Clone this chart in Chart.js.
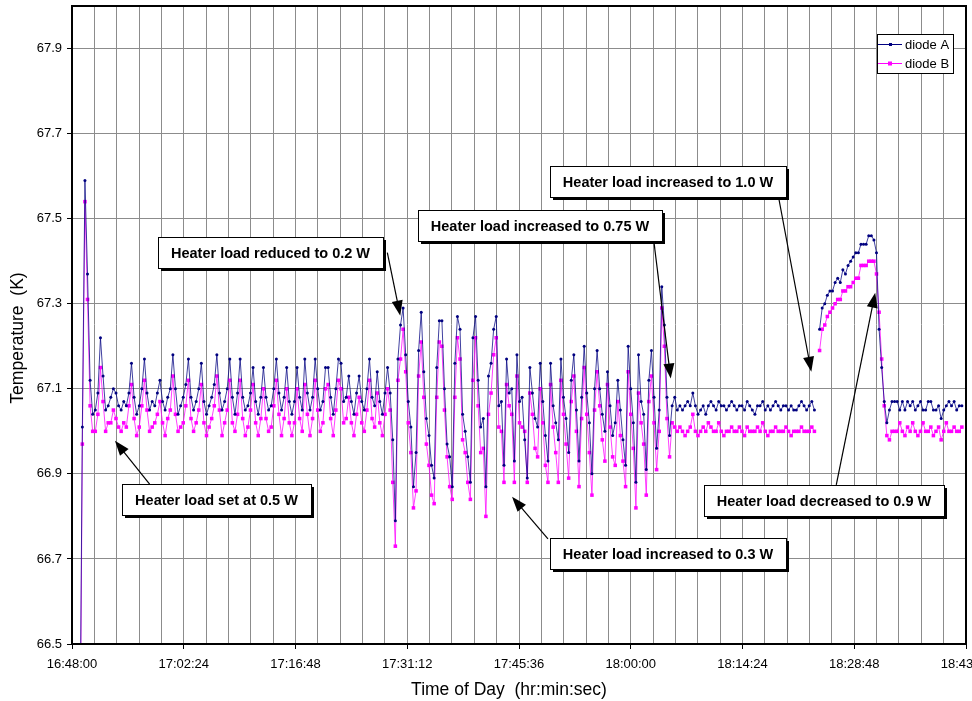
<!DOCTYPE html>
<html lang="en">
<head>
<meta charset="UTF-8">
<title>Diode temperatures vs heater load</title>
<style>
    html, body { margin: 0; padding: 0; background: #fff; overflow: hidden; }
    .chart-con { position: relative; width: 972px; height: 701px; }
</style>
</head>
<body>
<div class="chart-con">
    <canvas id="temps"></canvas>
</div>
<script src="https://cdn.jsdelivr.net/npm/chart.js"></script>
<script>
    // time axis in seconds of the day, 16:48:00 .. 18:43:12
    const axisStart = 60480;
    const axisEnd = 67392;
    const gridStep = 172.8;          // one vertical grid line every 0.002 day
    const xTickLabels = ['16:48:00', '17:02:24', '17:16:48', '17:31:12', '17:45:36',
        '18:00:00', '18:14:24', '18:28:48', '18:43:12'];
    const yTicks = [66.5, 66.7, 66.9, 67.1, 67.3, 67.5, 67.7, 67.9];

    // samples every 20 s from 16:49:00
    const sampleStart = 60540;
    const sampleStep = 20;

    const diodeA = [
        // 0.5 W
        66.20, 67.01, 67.59, 67.37, 67.12, 67.04, 67.05, 67.09, 67.22, 67.13,
        67.05, 67.06, 67.08, 67.10, 67.09, 67.06, 67.05, 67.07, 67.06, 67.09,
        67.16, 67.08, 67.04, 67.06, 67.10, 67.17, 67.09, 67.05, 67.07, 67.06,
        67.09, 67.12, 67.07, 67.05, 67.08, 67.10, 67.18, 67.10, 67.04, 67.06,
        67.08, 67.11, 67.17, 67.08, 67.05, 67.07, 67.10, 67.16, 67.07, 67.04,
        67.06, 67.08, 67.11, 67.18, 67.09, 67.05, 67.07, 67.10, 67.17, 67.08,
        67.04, 67.09, 67.17, 67.08, 67.05, 67.06, 67.09, 67.15, 67.07, 67.04,
        67.08, 67.15, 67.08, 67.05, 67.06, 67.10, 67.17, 67.09, 67.05, 67.08,
        67.15, 67.07, 67.04, 67.07, 67.15, 67.08, 67.05, 67.17, 67.09, 67.05,
        67.08, 67.17, 67.10, 67.05, 67.07, 67.15, 67.15, 67.08, 67.04, 67.10,
        67.17, 67.16, 67.07, 67.08, 67.13, 67.07, 67.04, 67.09, 67.13, 67.07,
        67.05, 67.10, 67.17, 67.08, 67.06, 67.14, 67.07, 67.04, 67.09, 67.15,
        // 0.2 W, then 0.3 W
        67.09, 66.98, 66.79, 67.17, 67.25, 67.29, 67.18, 67.07, 67.01, 66.87,
        66.95, 67.19, 67.28, 67.14, 67.03, 66.99, 66.92, 66.89, 67.15, 67.26,
        67.26, 67.10, 66.97, 66.94, 66.87, 67.16, 67.27, 67.24, 67.04, 67.00,
        66.94, 66.88, 67.22, 67.27, 67.12, 67.01, 67.03, 66.87, 67.13, 67.16,
        67.24, 67.27, 67.06, 67.07, 66.92, 67.17, 67.09, 67.10, 66.93, 67.18,
        67.07, 67.08, 66.98, 66.89, 67.15, 67.09, 67.03, 67.01, 67.16, 67.07,
        66.99, 66.93, 67.16, 67.06, 67.02, 66.98, 67.17, 67.08, 67.03, 66.95,
        67.12, 67.18, 67.05, 66.93, 67.08, 67.20, 67.09, 67.02, 66.90, 67.10,
        67.19, 67.10, 67.04, 67.00, 67.14, 67.06, 66.99, 67.02, 67.12, 67.05,
        66.98, 66.92, 67.20, 67.10, 67.02, 66.88, 67.18, 67.07, 67.04, 66.91,
        // 0.75 W
        67.12, 67.19, 67.08, 66.96, 67.05, 67.34, 67.25, 67.08, 66.99, 67.06,
        67.08, 67.05, 67.06, 67.05, 67.06, 67.07, 67.06, 67.09, 67.06, 67.04,
        67.05, 67.06, 67.04, 67.06, 67.07, 67.06, 67.05, 67.07, 67.06, 67.06,
        67.05, 67.06, 67.07, 67.06, 67.05, 67.06, 67.06, 67.05, 67.07, 67.06,
        67.05, 67.04, 67.06, 67.06, 67.07, 67.05, 67.06, 67.05, 67.06, 67.07,
        67.06, 67.05, 67.06, 67.06, 67.05, 67.06, 67.05, 67.05, 67.06, 67.07,
        67.06, 67.05, 67.06, 67.07, 67.05,
        // gap, then 1.0 W
        null,
        67.24, 67.29, 67.30, 67.32, 67.33, 67.33, 67.35, 67.36, 67.35, 67.38,
        67.37, 67.39, 67.40, 67.41, 67.42, 67.42, 67.44, 67.44, 67.44, 67.46,
        67.46, 67.45,
        // 0.9 W
        67.42, 67.24, 67.15, 67.07, 67.02, 67.05, 67.07,
        67.07, 67.07, 67.05, 67.07, 67.05, 67.07, 67.06, 67.07, 67.05, 67.06,
        67.07, 67.05, 67.05, 67.07, 67.07, 67.05, 67.05, 67.06, 67.03, 67.05,
        67.06, 67.07, 67.06, 67.07, 67.05, 67.06, 67.06
    ];

    const diodeB = [
        // 0.5 W
        66.10, 66.97, 67.54, 67.31, 67.06, 67.00, 67.00, 67.04, 67.15, 67.07,
        67.00, 67.02, 67.02, 67.05, 67.03, 67.01, 67.00, 67.02, 67.01, 67.06,
        67.11, 67.03, 66.99, 67.01, 67.06, 67.12, 67.05, 67.00, 67.01, 67.02,
        67.04, 67.07, 67.02, 66.99, 67.03, 67.05, 67.13, 67.04, 67.00, 67.01,
        67.02, 67.06, 67.12, 67.03, 67.00, 67.02, 67.05, 67.11, 67.02, 66.99,
        67.01, 67.03, 67.06, 67.13, 67.05, 66.99, 67.02, 67.05, 67.12, 67.02,
        67.00, 67.04, 67.12, 67.03, 66.99, 67.01, 67.05, 67.11, 67.02, 66.99,
        67.03, 67.10, 67.03, 67.00, 67.01, 67.06, 67.12, 67.04, 66.99, 67.03,
        67.10, 67.02, 66.99, 67.02, 67.10, 67.03, 67.00, 67.11, 67.04, 66.99,
        67.03, 67.12, 67.05, 67.00, 67.02, 67.10, 67.11, 67.03, 66.99, 67.05,
        67.12, 67.10, 67.02, 67.03, 67.08, 67.02, 66.99, 67.04, 67.08, 67.02,
        67.00, 67.05, 67.12, 67.03, 67.01, 67.09, 67.02, 66.99, 67.04, 67.10,
        // 0.2 W, then 0.3 W
        67.05, 66.88, 66.73, 67.12, 67.17, 67.24, 67.14, 67.02, 66.95, 66.82,
        66.86, 67.13, 67.21, 67.08, 66.97, 66.92, 66.85, 66.83, 67.08, 67.21,
        67.20, 67.05, 66.94, 66.87, 66.84, 67.08, 67.22, 67.17, 66.98, 66.95,
        66.88, 66.84, 67.12, 67.22, 67.06, 66.95, 66.96, 66.80, 67.04, 67.09,
        67.18, 67.22, 67.01, 67.00, 66.88, 67.11, 67.06, 67.04, 66.88, 67.13,
        67.02, 67.01, 67.00, 66.88, 67.09, 67.04, 66.96, 66.94, 67.10, 67.02,
        66.92, 66.88, 67.11, 67.01, 66.95, 66.88, 67.12, 67.04, 66.97, 66.89,
        67.07, 67.13, 67.00, 66.87, 67.03, 67.15, 67.04, 66.95, 66.85, 67.05,
        67.14, 67.06, 66.98, 66.93, 67.11, 67.01, 66.94, 66.92, 67.07, 66.99,
        66.93, 66.87, 67.14, 67.04, 66.96, 66.82, 67.09, 67.02, 66.97, 66.85,
        // 0.75 W
        67.07, 67.13, 67.02, 66.91, 67.00, 67.29, 67.20, 67.03, 66.94, 67.02,
        67.01, 67.00, 67.01, 67.00, 66.99, 67.00, 67.01, 67.04, 67.00, 66.99,
        67.00, 67.01, 67.00, 67.02, 67.01, 67.00, 67.00, 67.02, 67.00, 66.99,
        67.00, 67.00, 67.01, 67.00, 67.00, 67.01, 67.00, 66.99, 67.01, 67.00,
        67.00, 67.00, 67.01, 67.00, 67.02, 67.00, 66.99, 67.00, 67.00, 67.01,
        67.00, 67.00, 67.00, 67.01, 67.00, 66.99, 67.00, 67.00, 67.00, 67.01,
        67.00, 67.00, 67.00, 67.01, 67.00,
        // gap, then 1.0 W
        null,
        67.19, 67.24, 67.25, 67.27, 67.28, 67.29, 67.30, 67.31, 67.31, 67.33,
        67.33, 67.34, 67.34, 67.35, 67.36, 67.36, 67.39, 67.39, 67.39, 67.40,
        67.40, 67.40,
        // 0.9 W
        67.37, 67.28, 67.17, 67.06, 66.99, 66.98, 67.00,
        67.00, 67.00, 67.02, 67.00, 66.99, 67.01, 67.00, 67.02, 67.00, 66.99,
        67.00, 67.02, 67.00, 67.00, 67.01, 66.99, 67.00, 67.01, 66.98, 67.00,
        67.02, 67.00, 67.00, 67.01, 67.00, 67.00, 67.01
    ];

    // text boxes: centre, arrow start, arrow tip (time, K)
    const notes = [
        { text: 'Heater load set at 0.5 W', at: [61600, 66.840], from: [61080, 66.876], to: [60812, 66.978] },
        { text: 'Heater load reduced to 0.2 W', at: [62015, 67.420], from: [62918, 67.420], to: [63018, 67.272] },
        { text: 'Heater load increased to 0.75 W', at: [64102, 67.485], from: [64977, 67.451], to: [65109, 67.124] },
        { text: 'Heater load increased to 1.0 W', at: [65085, 67.588], from: [65942, 67.552], to: [66196, 67.140] },
        { text: 'Heater load increased to 0.3 W', at: [65085, 66.712], from: [64160, 66.747], to: [63882, 66.846] },
        { text: 'Heater load decreased to 0.9 W', at: [66293, 66.838], from: [66389, 66.874], to: [66690, 67.326] }
    ];

    const FONT = "'Liberation Sans', Arial, sans-serif";
    const toPoints = arr => arr.map((v, i) => ({ x: sampleStart + i * sampleStep, y: v }));

    const overlay = {
        id: 'overlay',
        afterDatasetsDraw(chart) {
            const { ctx, chartArea: a, scales: { x, y } } = chart;
            ctx.save();
            // frame
            ctx.strokeStyle = '#000';
            ctx.lineWidth = 2;
            ctx.strokeRect(a.left, a.top, a.right - a.left, a.bottom - a.top);

            // legend
            const lx = a.right - 89, ly = a.top + 28;
            ctx.fillStyle = '#fff';
            ctx.fillRect(lx, ly, 76, 39);
            ctx.lineWidth = 1;
            ctx.strokeRect(lx + 0.5, ly + 0.5, 76, 39);
            ctx.font = '13px ' + FONT;
            ctx.textBaseline = 'middle';
            ctx.textAlign = 'left';
            [['diode A', '#000080', 0], ['diode B', '#ff00ff', 1]].forEach(([name, col, k]) => {
                const yy = ly + 10 + k * 19;
                ctx.strokeStyle = col;
                ctx.beginPath();
                ctx.moveTo(lx + 1, yy + 0.5);
                ctx.lineTo(lx + 25, yy + 0.5);
                ctx.stroke();
                ctx.fillStyle = col;
                if (k === 0) ctx.fillRect(lx + 12, yy - 1, 3, 3);
                else ctx.fillRect(lx + 11, yy - 1.5, 4, 4);
                ctx.fillStyle = '#000';
                ctx.fillText(name, lx + 28, yy + 1);
            });

            // annotations
            ctx.font = 'bold 14.5px ' + FONT;
            notes.forEach(n => {
                const fx = x.getPixelForValue(n.from[0]), fy = y.getPixelForValue(n.from[1]);
                const tx = x.getPixelForValue(n.to[0]), ty = y.getPixelForValue(n.to[1]);
                const ang = Math.atan2(ty - fy, tx - fx);
                const c = Math.cos(ang), s = Math.sin(ang);
                ctx.strokeStyle = '#000';
                ctx.fillStyle = '#000';
                ctx.lineWidth = 1.2;
                ctx.beginPath();
                ctx.moveTo(fx, fy);
                ctx.lineTo(tx - 10 * c, ty - 10 * s);
                ctx.stroke();
                ctx.beginPath();
                ctx.moveTo(tx, ty);
                ctx.lineTo(tx - 15 * c + 5.5 * s, ty - 15 * s - 5.5 * c);
                ctx.lineTo(tx - 15 * c - 5.5 * s, ty - 15 * s + 5.5 * c);
                ctx.closePath();
                ctx.fill();

                const w = Math.round(ctx.measureText(n.text).width + 26);
                const h = 31;
                const bx = Math.round(x.getPixelForValue(n.at[0]) - w / 2);
                const by = Math.round(y.getPixelForValue(n.at[1]) - h / 2);
                ctx.fillStyle = '#000';
                ctx.fillRect(bx + 3, by + 3, w, h);
                ctx.fillStyle = '#fff';
                ctx.fillRect(bx, by, w, h);
                ctx.lineWidth = 1;
                ctx.strokeRect(bx + 0.5, by + 0.5, w, h);
                ctx.fillStyle = '#000';
                ctx.textAlign = 'center';
                ctx.textBaseline = 'middle';
                ctx.fillText(n.text, bx + w / 2, by + h / 2 + 1);
            });
            ctx.restore();
        },
        afterDraw(chart) {
            const { ctx } = chart;
            ctx.save();
            ctx.fillStyle = '#000';
            ctx.font = '17.5px ' + FONT;
            ctx.textAlign = 'center';
            ctx.textBaseline = 'middle';
            ctx.fillText('Time of Day  (hr:min:sec)', 509, 690);
            ctx.translate(18, 338);
            ctx.rotate(-Math.PI / 2);
            ctx.fillText('Temperature  (K)', 0, 0);
            ctx.restore();
        }
    };

    const temps = document.getElementById('temps');
    new Chart(temps, {
        type: 'line',
        data: {
            datasets: [
                {
                    label: 'diode A',
                    data: toPoints(diodeA),
                    borderColor: 'rgba(0, 0, 128, 0.75)',
                    borderWidth: 1,
                    pointStyle: 'circle',
                    pointRadius: 1.5,
                    pointBorderWidth: 0,
                    pointBackgroundColor: '#000080'
                },
                {
                    label: 'diode B',
                    data: toPoints(diodeB),
                    borderColor: 'rgba(255, 0, 255, 0.75)',
                    borderWidth: 1,
                    pointStyle: 'rect',
                    pointRadius: 2.5,
                    pointBorderWidth: 0,
                    pointBackgroundColor: '#ff00ff'
                }
            ]
        },
        options: {
            responsive: true,
            maintainAspectRatio: false,
            animation: false,
            spanGaps: false,
            elements: { line: { tension: 0 } },
            layout: { padding: { top: 6, right: 6, left: 0, bottom: 0 } },
            plugins: {
                legend: { display: false },
                tooltip: { enabled: false }
            },
            scales: {
                x: {
                    type: 'linear',
                    min: axisStart,
                    max: axisEnd,
                    afterBuildTicks: s => {
                        const t = [];
                        for (let k = 0; k <= 40; k++) t.push({ value: axisStart + k * gridStep });
                        s.ticks = t;
                    },
                    afterFit: s => {
                        s.height = 57;
                        s.paddingLeft = 0;
                        s.paddingRight = 0;
                    },
                    grid: {
                        color: '#8c8c8c',
                        lineWidth: 1,
                        tickLength: 5,
                        tickColor: c => (c.index % 5 === 0 ? '#000' : 'rgba(0,0,0,0)')
                    },
                    border: { color: '#000', width: 2 },
                    ticks: {
                        autoSkip: false,
                        maxRotation: 0,
                        minRotation: 0,
                        padding: 8,
                        color: '#000',
                        font: { family: FONT, size: 13 },
                        callback: (v, i) => (i % 5 === 0 ? xTickLabels[i / 5] : '')
                    }
                },
                y: {
                    min: 66.5,
                    max: 68.0,
                    afterBuildTicks: s => {
                        s.ticks = yTicks.map(v => ({ value: v }));
                    },
                    afterFit: s => {
                        s.width = 72;
                        s.paddingTop = 0;
                        s.paddingBottom = 0;
                    },
                    grid: {
                        color: '#8c8c8c',
                        lineWidth: 1,
                        tickLength: 5,
                        tickColor: '#000'
                    },
                    border: { color: '#000', width: 2 },
                    ticks: {
                        padding: 5,
                        color: '#000',
                        font: { family: FONT, size: 13 },
                        callback: v => v.toFixed(1)
                    }
                }
            }
        },
        plugins: [overlay]
    });
</script>
</body>
</html>
